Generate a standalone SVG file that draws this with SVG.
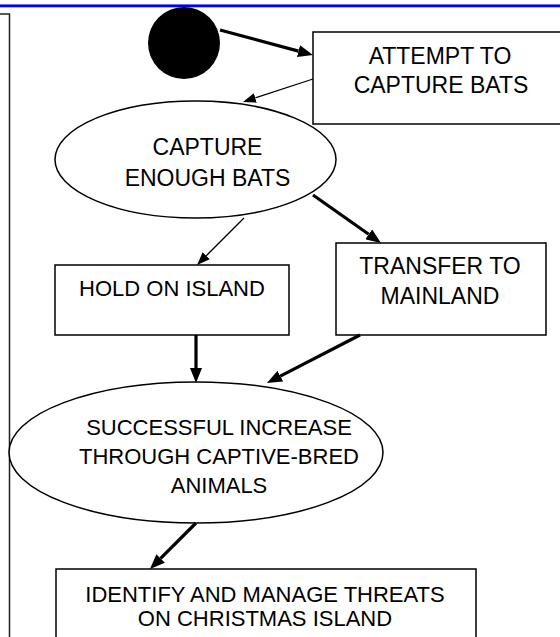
<svg xmlns="http://www.w3.org/2000/svg" width="560" height="637" viewBox="0 0 560 637">
<style>
.shape{fill:#fff;stroke:#000;stroke-width:1.5}
.t{font-family:"Liberation Sans",Arial,sans-serif;font-size:22px;fill:#000;text-anchor:middle}
.t23{font-size:23px}
.thick{stroke:#000;stroke-width:3.2;fill:none}
.thin{stroke:#000;stroke-width:1.3;fill:none}
</style>
<defs>
<marker id="hk" markerUnits="userSpaceOnUse" viewBox="0 0 15 12" markerWidth="15" markerHeight="12" refX="0" refY="6" orient="auto"><path d="M0,0 L15,6 L0,12 Z" fill="#000"/></marker>
<marker id="hn" markerUnits="userSpaceOnUse" viewBox="0 0 13 10" markerWidth="13" markerHeight="10" refX="0" refY="5" orient="auto"><path d="M0,0 L13,5 L0,10 Z" fill="#000"/></marker>
</defs>
<rect width="560" height="637" fill="#fff"/>
<rect x="0" y="4" width="560" height="1" fill="#6a6aff"/>
<rect x="0" y="5" width="560" height="2.3" fill="#0000ff"/>
<path d="M0,14 H9.5 V637" fill="none" stroke="#222" stroke-width="1.5"/>

<g id="start"><ellipse cx="184" cy="43" rx="36" ry="36" fill="#000"/></g>
<g id="attempt"><rect class="shape" x="313" y="32" width="260" height="92"/><text class="t t23" x="440" y="64">ATTEMPT TO</text><text class="t t23" x="441" y="93">CAPTURE BATS</text></g>
<g id="capture"><ellipse class="shape" cx="195.5" cy="159.5" rx="140.5" ry="58.5"/><text class="t t23" x="207.5" y="155">CAPTURE</text><text class="t t23" x="207.5" y="186">ENOUGH BATS</text></g>
<g id="hold"><rect class="shape" x="55" y="265" width="234" height="70"/><text class="t" x="172" y="296">HOLD ON ISLAND</text></g>
<g id="transfer"><rect class="shape" x="336" y="243" width="210" height="92"/><text class="t t23" x="440" y="274">TRANSFER TO</text><text class="t t23" x="440" y="304">MAINLAND</text></g>
<g id="successful"><ellipse class="shape" cx="196" cy="452.5" rx="187" ry="70.5"/><text class="t" x="219" y="435">SUCCESSFUL INCREASE</text><text class="t" x="219" y="464">THROUGH CAPTIVE-BRED</text><text class="t" x="219" y="493">ANIMALS</text></g>
<g id="identify"><rect class="shape" x="56" y="569" width="420" height="100"/><text class="t" x="265" y="602">IDENTIFY AND MANAGE THREATS</text><text class="t" x="265" y="626">ON CHRISTMAS ISLAND</text></g>

<g id="connectors">
<line class="thick" x1="220" y1="30" x2="298.5" y2="51.1" marker-end="url(#hk)"/>
<line class="thin" x1="313" y1="79" x2="255.3" y2="97.9" marker-end="url(#hn)"/>
<line class="thin" x1="244" y1="218" x2="206.2" y2="255.8" marker-end="url(#hn)"/>
<line class="thick" x1="313" y1="195" x2="368.7" y2="234.3" marker-end="url(#hk)"/>
<line class="thick" x1="196" y1="335" x2="196" y2="368" marker-end="url(#hk)"/>
<line class="thick" x1="360" y1="335" x2="280.3" y2="376.1" marker-end="url(#hk)"/>
<line class="thick" x1="196" y1="523" x2="160.6" y2="558.4" marker-end="url(#hk)"/>
</g>
</svg>
